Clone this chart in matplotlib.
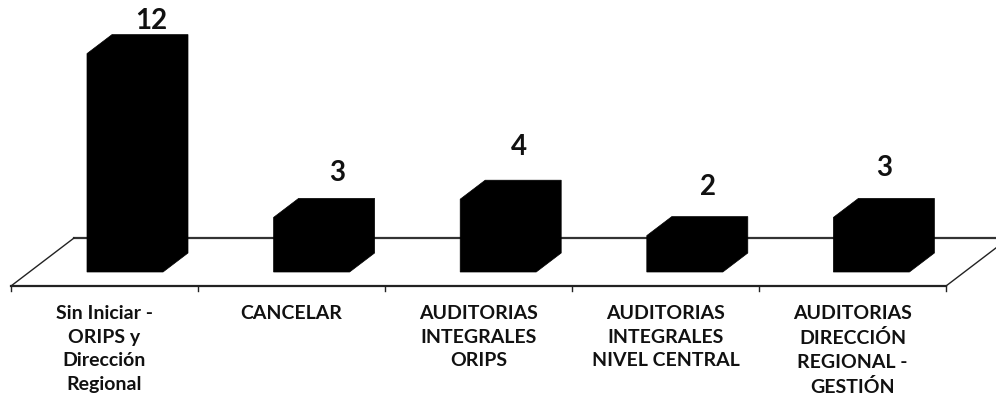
import matplotlib
matplotlib.use("Agg")
import matplotlib.pyplot as plt
from matplotlib.patches import Polygon

categories = [
    "Sin Iniciar -\nORIPS y\nDirección\nRegional",
    "CANCELAR",
    "AUDITORIAS\nINTEGRALES\nORIPS",
    "AUDITORIAS\nINTEGRALES\nNIVEL CENTRAL",
    "AUDITORIAS\nDIRECCIÓN\nREGIONAL -\nGESTIÓN",
]
values = [12, 3, 4, 2, 3]

W, H = 996, 396
X0, XSTEP = 125.0, 186.6   # pixel centre of first bar, spacing between bars
Y0, YUNIT = 272.0, 18.2    # pixel row of value zero, pixels per unit

fig = plt.figure(figsize=(W / 100, H / 100), dpi=100, facecolor="white")
ax = fig.add_axes([0, 0, 1, 1])
ax.set_xlim(-X0 / XSTEP, (W - X0) / XSTEP)
ax.set_ylim((Y0 - H) / YUNIT, Y0 / YUNIT)
ax.axis("off")

bar_w = 76 / XSTEP
dx, dy = 25 / XSTEP, 19 / YUNIT

# Floor of the pseudo-3D plot
floor_front = (Y0 - 286) / YUNIT
floor_back = (Y0 - 238) / YUNIT
x_left = (11 - X0) / XSTEP
floor_len = 935 / XSTEP
cell = floor_len / len(values)
depth = 63 / XSTEP
line = "#222222"
ax.plot([x_left, x_left + floor_len], [floor_front] * 2, color=line, lw=1.6, zorder=1)
ax.plot([x_left + depth, x_left + floor_len + depth], [floor_back] * 2, color="#333333", lw=1.6, zorder=1)
ax.plot([x_left, x_left + depth], [floor_front, floor_back], color=line, lw=1.0, zorder=1)
ax.plot([x_left + floor_len, x_left + floor_len + depth], [floor_front, floor_back], color=line, lw=1.0, zorder=1)
tick = 5 / YUNIT
for k in range(len(values) + 1):
    xt = x_left + k * cell
    ax.plot([xt, xt], [floor_front, floor_front - tick], color=line, lw=1.0, zorder=1)

# Bars: front, top and side faces drawn as one black silhouette
for i, v in enumerate(values):
    l, r = i - bar_w / 2, i + bar_w / 2
    ax.add_patch(Polygon(
        [(l, 0), (r, 0), (r + dx, dy), (r + dx, v + dy), (l + dx, v + dy), (l, v)],
        closed=True, facecolor="black", edgecolor="black", lw=0.5, zorder=3))

# Value labels sit at hand-tuned offsets (points) from each bar's top centre
label_font = dict(family="Lato", weight="bold", color="#111111")
offsets = [(9.6, 10), (9.5, 18), (6, 24), (7.5, 21), (0, 22)]
for i, v in enumerate(values):
    ax.annotate(str(v), (i + dx / 2, v + dy), xytext=offsets[i], textcoords="offset points",
                ha="center", va="center", fontsize=20, **label_font)

# Category labels are centred in the tick intervals below the floor
for i, c in enumerate(categories):
    ax.text(x_left + (i + 0.5) * cell, (Y0 - 305) / YUNIT, c, ha="center", va="top",
            fontsize=14, linespacing=1.47, **label_font)

fig.savefig("out.png", dpi=100)
